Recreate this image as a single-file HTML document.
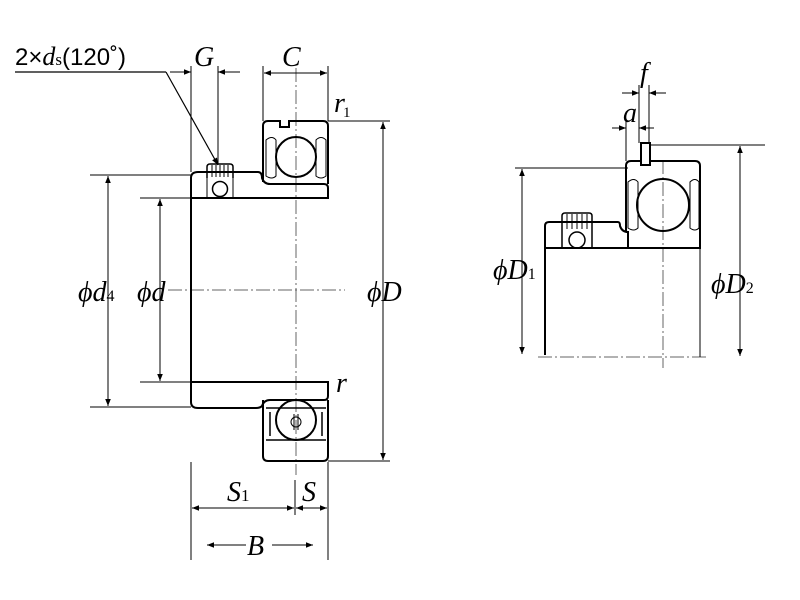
<!DOCTYPE html>
<html><head><style>body{margin:0;background:#fff}svg{display:block}
.t{font-family:"Liberation Serif",serif;font-style:italic;font-size:28px;fill:#000}
.s{font-family:"Liberation Serif",serif;font-size:15px;fill:#000}
</style></head><body>
<svg width="800" height="600" viewBox="0 0 800 600" xmlns="http://www.w3.org/2000/svg">
<defs>
<marker id="a" viewBox="0 0 10 10" refX="10" refY="5" markerWidth="10" markerHeight="7" orient="auto-start-reverse" markerUnits="userSpaceOnUse"><path d="M0,1 L10,5 L0,9z" fill="#000"/></marker>
</defs>
<g stroke="#000" fill="none" stroke-width="1">
<line x1="296" y1="68" x2="296" y2="475" stroke="#666" stroke-dasharray="14,3,2,3"/>
<line x1="168" y1="290" x2="345" y2="290" stroke="#666" stroke-dasharray="14,3,2,3"/>
<g stroke-width="2">
<path d="M198,172 H258 Q262,172 262,178 Q264,184 270,184 H324 Q328,184 328,188 V198 H191 V178 Q191,172 198,172Z"/>
<path d="M191,382 H328 V396 Q328,400 324,400 H270 Q264,400 262,406 Q260,408 256,408 H198 Q191,408 191,402Z"/>
<line x1="191" y1="198" x2="191" y2="382"/>
<path d="M268,121 H280 V127 H289 V121 H323 Q328,121 328,126 V184 M263,182 V126 Q263,121 268,121"/>
<circle cx="296" cy="157" r="20"/>
<path d="M263,400 V456 Q263,461 268,461 H323 Q328,461 328,456 V400"/>
<circle cx="296" cy="420" r="20"/>
</g>
<path d="M266,140 Q272,135 276,140 V176 Q272,180 266,176Z M316,140 Q321,135 326,140 V176 Q321,180 316,176Z"/>
<path d="M266,408 H326 M266,440 H326 M270,412 V436 M322,412 V436" stroke-width="1.5"/>
<circle cx="296" cy="422" r="5"/>
<line x1="294" y1="414" x2="294" y2="430"/><line x1="298" y1="414" x2="298" y2="430"/>
<path d="M207,178 V167 Q207,164 210,164 H230 Q233,164 233,167 V178" stroke-width="1.5"/>
<path d="M212,165 V177 M216,165 V177 M220,165 V177 M224,165 V177 M228,165 V177"/>
<path d="M207,178 V198 M233,178 V198"/>
<circle cx="220" cy="189" r="7.5" stroke-width="1.5"/>
<line x1="90" y1="175" x2="191" y2="175"/><line x1="90" y1="407" x2="191" y2="407"/>
<line x1="108" y1="176" x2="108" y2="406" marker-start="url(#a)" marker-end="url(#a)"/>
<line x1="140" y1="198" x2="191" y2="198"/><line x1="140" y1="382" x2="191" y2="382"/>
<line x1="160" y1="199" x2="160" y2="381" marker-start="url(#a)" marker-end="url(#a)"/>
<line x1="328" y1="121" x2="390" y2="121"/><line x1="328" y1="461" x2="390" y2="461"/>
<line x1="383" y1="122" x2="383" y2="460" marker-start="url(#a)" marker-end="url(#a)"/>
<line x1="191" y1="66" x2="191" y2="172"/><line x1="218" y1="66" x2="218" y2="164"/>
<line x1="170" y1="72" x2="191" y2="72" marker-end="url(#a)"/>
<line x1="240" y1="72" x2="218" y2="72" marker-end="url(#a)"/>
<line x1="263" y1="66" x2="263" y2="121"/><line x1="328" y1="66" x2="328" y2="121"/>
<line x1="264" y1="73" x2="327" y2="73" marker-start="url(#a)" marker-end="url(#a)"/>
<line x1="15" y1="72" x2="166" y2="72" stroke-width="1.2"/>
<line x1="166" y1="72" x2="218" y2="165" stroke-width="1.2" marker-end="url(#a)"/>
<line x1="191" y1="462" x2="191" y2="560"/><line x1="328" y1="462" x2="328" y2="560"/>
<line x1="295" y1="480" x2="295" y2="515"/>
<line x1="192" y1="508" x2="294" y2="508" marker-start="url(#a)" marker-end="url(#a)"/>
<line x1="296" y1="508" x2="327" y2="508" marker-start="url(#a)" marker-end="url(#a)"/>
<line x1="207" y1="545" x2="246" y2="545" marker-start="url(#a)"/>
<line x1="272" y1="545" x2="313" y2="545" marker-end="url(#a)"/>

<line x1="663" y1="160" x2="663" y2="368" stroke="#666" stroke-dasharray="14,3,2,3"/>
<line x1="538" y1="357" x2="708" y2="357" stroke="#666" stroke-dasharray="14,3,2,3"/>
<g stroke-width="2">
<path d="M545,355 V226 Q545,222 549,222 H618 Q620,222 620,226 Q622,232 628,232 V248 M545,248 H700 V232"/>
<path d="M626,232 V166 Q626,161 631,161 H641 M650,161 H695 Q700,161 700,166 V248"/>
<rect x="641" y="143" width="9" height="22"/>
<circle cx="663" cy="205" r="26"/>
</g>
<line x1="700" y1="248" x2="700" y2="357"/>
<path d="M628,182 Q634,177 638,182 V228 Q634,232 628,228Z M690,182 Q695,177 699,182 V228 Q695,232 690,228Z"/>
<path d="M562,230 V216 Q562,213 565,213 H589 Q592,213 592,216 V230 M562,230 V248 M592,230 V248" stroke-width="1.5"/>
<path d="M567,214 V229 M572,214 V229 M577,214 V229 M582,214 V229 M587,214 V229"/>
<circle cx="577" cy="240" r="8" stroke-width="1.5"/>
<line x1="515" y1="168" x2="628" y2="168"/>
<line x1="522" y1="169" x2="522" y2="354" marker-start="url(#a)" marker-end="url(#a)"/>
<line x1="650" y1="145" x2="765" y2="145"/>
<line x1="740" y1="146" x2="740" y2="356" marker-start="url(#a)" marker-end="url(#a)"/>
<line x1="639" y1="85" x2="639" y2="143"/><line x1="649" y1="85" x2="649" y2="143"/>
<line x1="622" y1="93" x2="639" y2="93" marker-end="url(#a)"/>
<line x1="666" y1="93" x2="649" y2="93" marker-end="url(#a)"/>
<line x1="626" y1="120" x2="626" y2="161"/>
<line x1="612" y1="128" x2="626" y2="128" marker-end="url(#a)"/>
<line x1="654" y1="128" x2="639" y2="128" marker-end="url(#a)"/>
</g>
<text x="15" y="65" style="font-family:'Liberation Sans',sans-serif;font-size:24px">2×<tspan style="font-family:'Liberation Serif',serif;font-style:italic;font-size:26px">d</tspan><tspan style="font-family:'Liberation Serif',serif;font-size:17px">s</tspan>(120˚)</text>
<text class="t" x="194" y="66">G</text>
<text class="t" x="282" y="66">C</text>
<text class="t" x="334" y="112">r</text><text class="s" x="343" y="117">1</text>
<text class="t" x="336" y="392">r</text>
<text class="t" x="78" y="301">ϕd<tspan style="font-size:16px;font-style:normal">4</tspan></text>
<text class="t" x="137" y="301">ϕd</text>
<text class="t" x="367" y="301">ϕD</text>
<text class="t" x="227" y="501">S<tspan style="font-size:17px;font-style:normal">1</tspan></text>
<text class="t" x="302" y="501">S</text>
<text class="t" x="247" y="555">B</text>
<text class="t" x="640" y="82">f</text>
<text class="t" x="623" y="122">a</text>
<text class="t" x="493" y="279">ϕD<tspan style="font-size:16px;font-style:normal">1</tspan></text>
<text class="t" x="711" y="293">ϕD<tspan style="font-size:16px;font-style:normal">2</tspan></text>
</svg>
</body></html>
